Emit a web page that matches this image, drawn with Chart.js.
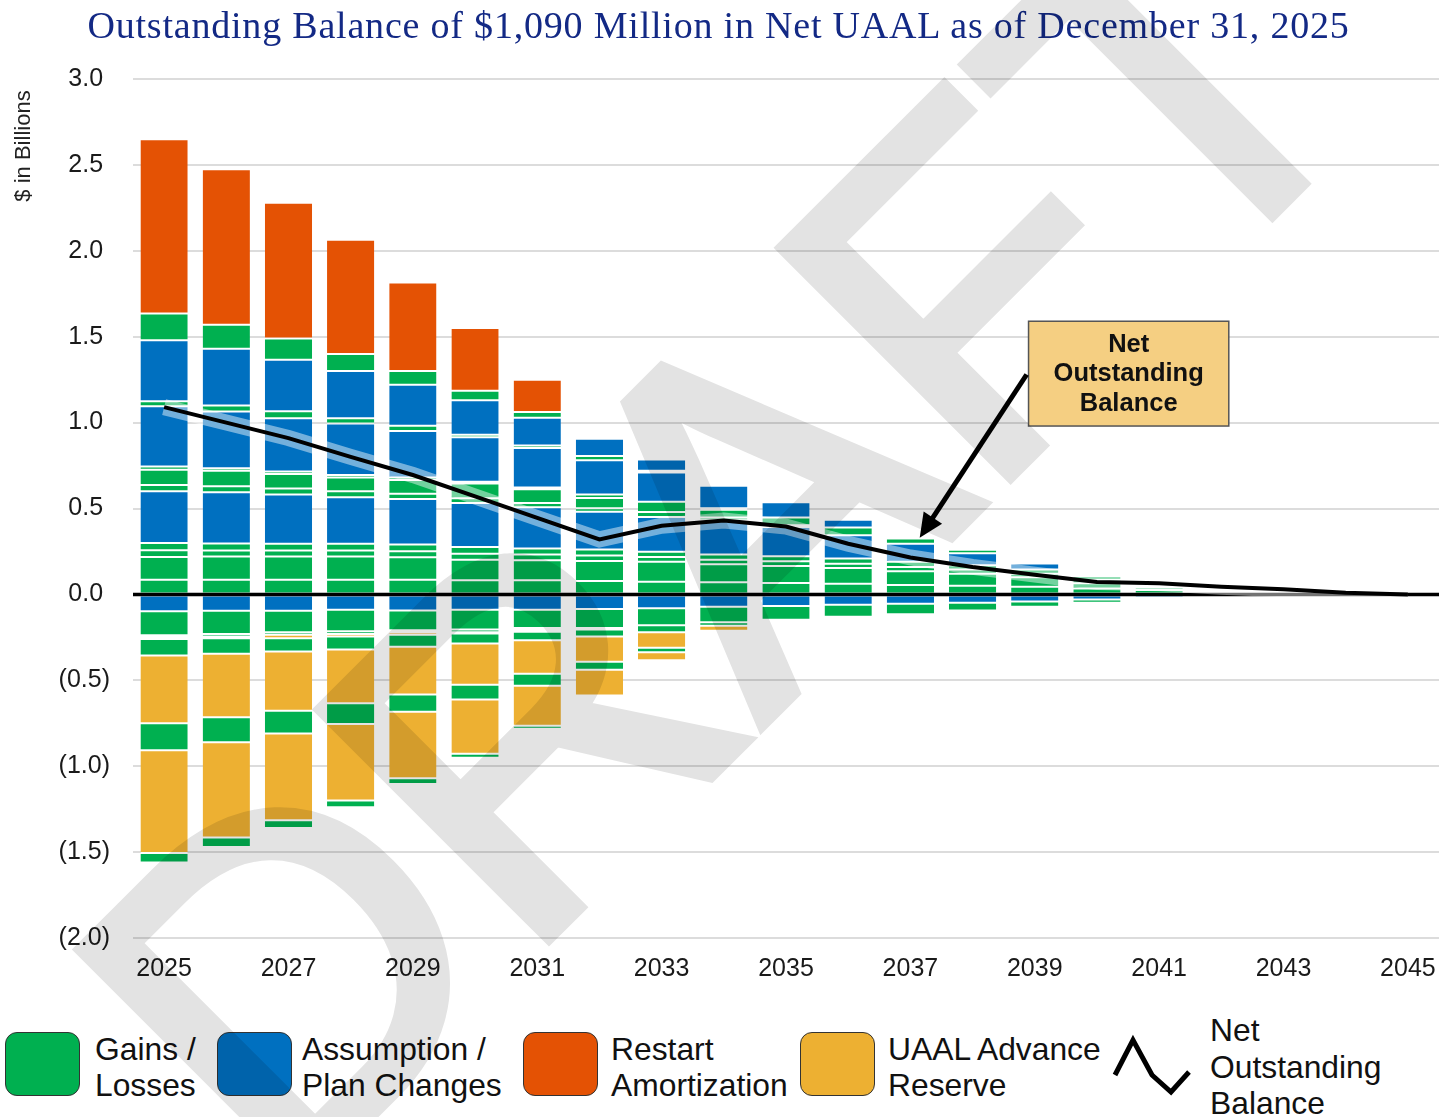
<!DOCTYPE html>
<html>
<head>
<meta charset="utf-8">
<title>Outstanding Balance in Net UAAL</title>
<script src="https://cdn.jsdelivr.net/npm/chart.js@4.4.1/dist/chart.umd.min.js"></script>
<style>
  html, body { margin: 0; padding: 0; background: #fff; overflow: hidden; }
  #page { position: relative; width: 1444px; height: 1117px; }
  #title {
    position: absolute; left: 0; top: 1px; width: 1437px; text-align: center;
    font: 38px "Liberation Serif", serif; letter-spacing: 0.8px; line-height: 48px; color: #132985; white-space: nowrap;
  }
  #chartBox { position: absolute; left: 0; top: 0; width: 1444px; height: 1000px; }
  .swatch {
    position: absolute; top: 1032px; width: 75px; height: 64px; box-sizing: border-box;
    border: 1.5px solid #333; border-radius: 12px;
  }
  .ltext {
    position: absolute; top: 1031px; font: 31.8px "Liberation Sans", sans-serif;
    line-height: 36px; color: #111; white-space: nowrap;
  }
  #watermark {
    position: absolute; left: 721px; top: 537px;
    transform: translate(-50%, -50%) rotate(-45deg);
    font: 470px "Liberation Sans", sans-serif; line-height: 1; color: #000;
    -webkit-text-stroke: 12px #000; opacity: 0.11; white-space: nowrap; pointer-events: none;
  }
</style>
</head>
<body>
<div id="page">
  <div id="chartBox"><canvas id="uaalChart"></canvas></div>
  <div id="title">Outstanding Balance of $1,090 Million in Net UAAL as of December 31, 2025</div>

  <div class="swatch" data-swatch="gains" style="left:5px"></div>
  <div class="ltext" style="left:95px">Gains /<br>Losses</div>
  <div class="swatch" data-swatch="assump" style="left:217px"></div>
  <div class="ltext" style="left:302px">Assumption /<br>Plan Changes</div>
  <div class="swatch" data-swatch="restart" style="left:523px"></div>
  <div class="ltext" style="left:611px">Restart<br>Amortization</div>
  <div class="swatch" data-swatch="reserve" style="left:800px"></div>
  <div class="ltext" style="left:888px">UAAL Advance<br>Reserve</div>
  <svg style="position:absolute;left:1105px;top:1030px" width="95" height="70">
    <polyline points="10,45 28,10 47,45 66,62 84,42" fill="none" stroke="#000" stroke-width="5"/>
  </svg>
  <div class="ltext" style="left:1210px;top:1012px;line-height:36.5px">Net<br>Outstanding<br>Balance</div>

  <div id="watermark">DRAFT</div>
</div>

<script>
const years = ["2025","2026","2027","2028","2029","2030","2031","2032","2033","2034","2035",
               "2036","2037","2038","2039","2040","2041","2042","2043","2044","2045"];

// positive amortization layers, bottom of the stack first ($ billions)
const gainsA   = [0.086,0.086,0.086,0.086,0.086,0.082,0.082,0.078,0.073,0.070,0.067,0.062,0.055,0.050,0.045,0.035,0.025,0.012,0.008,0.004,0];
const gainsB   = [0.132,0.134,0.134,0.134,0.130,0.120,0.117,0.117,0.117,0.105,0.098,0.092,0.080,0.070,0.055,0.030,0.015,0.008,0.005,0.002,0];
const gainsC   = [0.039,0.035,0.035,0.035,0.035,0.034,0.033,0.031,0.028,0.027,0.028,0.025,0.025,0.025,0.020,0.020,0.010,0.005,0.003,0,0];
const gainsD   = [0.042,0.041,0.040,0.040,0.040,0.040,0.035,0.035,0.030,0.030,0.029,0.030,0.030,0.025,0.025,0.020,0.008,0.003,0.002,0,0];
const assumpA  = [0.302,0.298,0.286,0.270,0.265,0.256,0.240,0.220,0.202,0.200,0.170,0.135,0.105,0.070,0.035,0,0,0,0,0,0];
const gainsE   = [0.036,0.036,0.035,0.035,0.030,0.028,0.025,0.020,0.030,0.015,0.010,0,0,0,0,0,0,0,0,0,0];
const gainsF   = [0.088,0.090,0.085,0.080,0.080,0.085,0.080,0.060,0.060,0.045,0.045,0.045,0.030,0.020,0,0,0,0,0,0,0];
const gainsG   = [0.020,0.015,0.015,0.015,0.015,0.010,0.010,0.020,0,0.010,0,0,0,0,0,0,0,0,0,0,0];
const assumpB  = [0.350,0.330,0.310,0.300,0.270,0.260,0.230,0.200,0.170,0.130,0.090,0.045,0,0,0,0,0,0,0,0,0];
const gainsH   = [0.030,0.035,0.040,0.030,0.030,0.015,0.015,0.025,0.010,0,0,0,0,0,0,0,0,0,0,0,0];
const assumpC  = [0.355,0.330,0.300,0.275,0.240,0.200,0.161,0.100,0.065,0,0,0,0,0,0,0,0,0,0,0,0];
const gainsI   = [0.155,0.140,0.123,0.100,0.080,0.055,0.033,0,0,0,0,0,0,0,0,0,0,0,0,0,0];
const restart  = [1.015,0.905,0.790,0.665,0.515,0.365,0.189,0,0,0,0,0,0,0,0,0,0,0,0,0,0];

// negative layers (size below zero), nearest the axis first
const negAssump = [0.098,0.095,0.095,0.090,0.093,0.090,0.090,0.085,0.080,0.072,0.068,0.060,0.055,0.048,0.042,0.030,0.020,0.010,0.005,0,0];
const negGainsA = [0.140,0.135,0.125,0.125,0.115,0.115,0.105,0.110,0.100,0.090,0.080,0.070,0.060,0.046,0.030,0.018,0.005,0,0,0,0];
const negGainsB = [0.010,0.015,0.015,0.015,0.012,0.015,0.012,0.010,0,0.020,0,0,0,0,0,0,0,0,0,0,0];
const reserveA  = [0.012,0.010,0.020,0.015,0.015,0.008,0.010,0,0,0,0,0,0,0,0,0,0,0,0,0,0];
const negGainsC = [0.095,0.090,0.077,0.075,0.070,0.058,0.050,0.040,0.040,0,0,0,0,0,0,0,0,0,0,0,0];
const reserveB  = [0.395,0.370,0.345,0.313,0.278,0.240,0.195,0.147,0.090,0.030,0,0,0,0,0,0,0,0,0,0,0];
const negGainsD = [0.157,0.145,0.133,0.121,0.100,0.086,0.070,0.046,0.027,0,0,0,0,0,0,0,0,0,0,0,0];
const reserveC  = [0.598,0.555,0.505,0.445,0.387,0.315,0.232,0.150,0.047,0,0,0,0,0,0,0,0,0,0,0,0];
const negGainsE = [0.055,0.055,0.045,0.040,0.033,0.024,0.018,0,0,0,0,0,0,0,0,0,0,0,0,0,0];

// net outstanding balance line
const netBalance = [1.09,1.00,0.91,0.80,0.695,0.57,0.445,0.32,0.40,0.43,0.395,0.295,0.215,0.16,0.115,0.072,0.065,0.045,0.03,0.01,0];

const GREEN = '#00B050';
const BLUE = '#0070C0';
const ORANGE = '#E45204';
const YELLOW = '#EDB032';

document.querySelectorAll('[data-swatch]').forEach(function (el) {
  el.style.background = { gains: GREEN, assump: BLUE, restart: ORANGE, reserve: YELLOW }[el.dataset.swatch];
});

function layer(label, values, color, sign) {
  return {
    type: 'bar',
    label: label,
    data: values.map(function (v) { return sign * v; }),
    backgroundColor: color,
    borderColor: '#ffffff',
    borderWidth: { top: 1, bottom: 1, left: 0, right: 0 },
    borderSkipped: false,
    barPercentage: 0.76,
    categoryPercentage: 1,
    order: 2
  };
}

const datasets = [
  layer('Gains / Losses', gainsA, GREEN, 1),
  layer('Gains / Losses', gainsB, GREEN, 1),
  layer('Gains / Losses', gainsC, GREEN, 1),
  layer('Gains / Losses', gainsD, GREEN, 1),
  layer('Assumption / Plan Changes', assumpA, BLUE, 1),
  layer('Gains / Losses', gainsE, GREEN, 1),
  layer('Gains / Losses', gainsF, GREEN, 1),
  layer('Gains / Losses', gainsG, GREEN, 1),
  layer('Assumption / Plan Changes', assumpB, BLUE, 1),
  layer('Gains / Losses', gainsH, GREEN, 1),
  layer('Assumption / Plan Changes', assumpC, BLUE, 1),
  layer('Gains / Losses', gainsI, GREEN, 1),
  layer('Restart Amortization', restart, ORANGE, 1),
  layer('Assumption / Plan Changes', negAssump, BLUE, -1),
  layer('Gains / Losses', negGainsA, GREEN, -1),
  layer('Gains / Losses', negGainsB, GREEN, -1),
  layer('UAAL Advance Reserve', reserveA, YELLOW, -1),
  layer('Gains / Losses', negGainsC, GREEN, -1),
  layer('UAAL Advance Reserve', reserveB, YELLOW, -1),
  layer('Gains / Losses', negGainsD, GREEN, -1),
  layer('UAAL Advance Reserve', reserveC, YELLOW, -1),
  layer('Gains / Losses', negGainsE, GREEN, -1),
  {
    type: 'line', label: 'glow', data: netBalance, stack: 'glow',
    borderColor: 'rgba(255,255,255,0.45)', borderWidth: 16, pointRadius: 0, tension: 0, order: 1
  },
  {
    type: 'line', label: 'Net Outstanding Balance', data: netBalance, stack: 'net',
    borderColor: '#000', borderWidth: 4, pointRadius: 0, tension: 0, order: 0
  }
];

// zero line goes on top of the bars but under the net balance line
const glowIndex = datasets.length - 2;

const extras = {
  id: 'extras',
  beforeDatasetDraw: function (chart, args) {
    if (args.index !== glowIndex) return;
    const c = chart.ctx, a = chart.chartArea, y0 = chart.scales.y.getPixelForValue(0);
    c.save();
    c.strokeStyle = '#000';
    c.lineWidth = 3.5;
    c.beginPath();
    c.moveTo(a.left, y0);
    c.lineTo(a.right, y0);
    c.stroke();
    c.restore();
  },
  afterDraw: function (chart) {
    const c = chart.ctx, x = chart.scales.x, y = chart.scales.y;
    c.save();

    // axis title
    c.translate(24, 146);
    c.rotate(-Math.PI / 2);
    c.fillStyle = '#222';
    c.font = '22px "Liberation Sans"';
    c.textAlign = 'center';
    c.textBaseline = 'middle';
    c.fillText('$ in Billions', 0, 0);
    c.setTransform(1, 0, 0, 1, 0, 0);

    // callout box
    const bx0 = x.getPixelForValue(13.9), bx1 = x.getPixelForValue(17.12);
    const by0 = y.getPixelForValue(1.59), by1 = y.getPixelForValue(0.98);
    c.fillStyle = '#F5CF82';
    c.fillRect(bx0, by0, bx1 - bx0, by1 - by0);
    c.strokeStyle = '#555';
    c.lineWidth = 1.5;
    c.strokeRect(bx0, by0, bx1 - bx0, by1 - by0);
    c.fillStyle = '#111';
    c.font = 'bold 25.5px "Liberation Sans"';
    ['Net', 'Outstanding', 'Balance'].forEach(function (t, i) {
      c.fillText(t, (bx0 + bx1) / 2, (by0 + by1) / 2 - 29 + i * 29.5);
    });

    // arrow to the line
    const sx = x.getPixelForValue(13.87), sy = y.getPixelForValue(1.28);
    const tx = x.getPixelForValue(12.15), ty = y.getPixelForValue(0.33);
    const len = Math.hypot(tx - sx, ty - sy), ux = (tx - sx) / len, uy = (ty - sy) / len;
    c.strokeStyle = '#000';
    c.lineWidth = 5;
    c.beginPath();
    c.moveTo(sx, sy);
    c.lineTo(tx - ux * 18, ty - uy * 18);
    c.stroke();
    c.fillStyle = '#000';
    c.beginPath();
    c.moveTo(tx, ty);
    c.lineTo(tx - ux * 24 - uy * 11, ty - uy * 24 + ux * 11);
    c.lineTo(tx - ux * 24 + uy * 11, ty - uy * 24 - ux * 11);
    c.closePath();
    c.fill();
    c.restore();
  }
};

Chart.defaults.font.family = '"Liberation Sans", Arial, sans-serif';

new Chart(document.getElementById('uaalChart'), {
  data: { labels: years, datasets: datasets },
  options: {
    responsive: true,
    maintainAspectRatio: false,
    animation: false,
    layout: { padding: { top: 79, right: 5, bottom: 0, left: 0 } },
    plugins: { legend: { display: false }, tooltip: { enabled: false } },
    scales: {
      x: {
        stacked: true,
        grid: { display: false },
        border: { display: false },
        afterFit: function (s) { s.height = 62; s.paddingLeft = 0; s.paddingRight = 0; },
        ticks: {
          autoSkip: false, maxRotation: 0, padding: 8, color: '#1a1a1a', font: { size: 25 },
          callback: function (v, i) { return i % 2 === 0 ? years[i] : ''; }
        }
      },
      y: {
        stacked: true,
        min: -2, max: 3,
        grid: { color: '#dcdcdc', lineWidth: 2, drawTicks: false },
        border: { display: false },
        afterFit: function (s) { s.width = 133; },
        ticks: {
          stepSize: 0.5, padding: 23, color: '#1a1a1a', font: { size: 25 },
          callback: function (v) {
            return v < 0 ? '(' + (-v).toFixed(1) + ')' : v.toFixed(1) + ' ';
          }
        }
      }
    }
  },
  plugins: [extras]
});
</script>
</body>
</html>
